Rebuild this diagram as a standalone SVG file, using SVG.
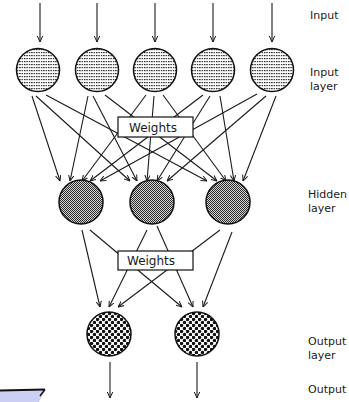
<svg xmlns="http://www.w3.org/2000/svg" width="349" height="402" viewBox="0 0 349 402">
  <style>
    .lbl { font-family: "DejaVu Sans", "Liberation Sans", sans-serif; font-size: 11px; fill: #1a1a1a; }
    .wt { font-family: "DejaVu Sans", "Liberation Sans", sans-serif; font-size: 12px; fill: #1a1a1a; text-anchor: middle; }
    .node { stroke: #111; stroke-width: 1.5; }
    .box { fill: #fff; stroke: #111; stroke-width: 1.2; }
    .conn line { stroke: #1a1a1a; stroke-width: 1.1; fill: none; marker-end: url(#head); }
  </style>
  <defs>
    <!-- open V arrowhead -->
    <marker id="head" viewBox="0 0 6 6" refX="6" refY="3" markerWidth="6" markerHeight="6" markerUnits="userSpaceOnUse" orient="auto">
      <path d="M0,0.3 L6,3 L0,5.7" fill="none" stroke="#1a1a1a" stroke-width="1"/>
    </marker>
    <!-- input layer: rows of fine dots -->
    <pattern id="dots" width="2.4" height="3" patternUnits="userSpaceOnUse">
      <rect width="2.4" height="3" fill="#fff"/>
      <rect x="0" y="1" width="1.4" height="1.2" fill="#222"/>
    </pattern>
    <!-- hidden layer: dense dither -->
    <pattern id="dither" width="2" height="2" patternUnits="userSpaceOnUse">
      <rect width="2" height="2" fill="#d6d6d6"/>
      <rect x="0" y="0" width="1" height="1" fill="#2a2a2a"/>
      <rect x="1" y="1" width="1" height="1" fill="#2a2a2a"/>
    </pattern>
    <!-- output layer: checkerboard dots -->
    <pattern id="checker" width="6" height="6" patternUnits="userSpaceOnUse">
      <rect width="6" height="6" fill="#fff"/>
      <circle cx="1.5" cy="1.5" r="1.75" fill="#111"/>
      <circle cx="4.5" cy="4.5" r="1.75" fill="#111"/>
    </pattern>
  </defs>

  <rect width="349" height="402" fill="#fff"/>

  <!-- connectors -->
  <g id="connectors" class="conn">
    <!-- external inputs -->
    <line x1="40" y1="3" x2="40" y2="42"/>
    <line x1="97" y1="3" x2="97" y2="42"/>
    <line x1="155" y1="3" x2="155" y2="42"/>
    <line x1="213" y1="3" x2="213" y2="42"/>
    <line x1="272" y1="3" x2="272" y2="42"/>
    <!-- input layer to hidden layer -->
    <line x1="32" y1="96" x2="60" y2="181"/>
    <line x1="36" y1="96" x2="130" y2="181"/>
    <line x1="46" y1="95" x2="207" y2="181"/>
    <line x1="88" y1="96" x2="70" y2="181"/>
    <line x1="93" y1="96" x2="137" y2="181"/>
    <line x1="105" y1="95" x2="217" y2="181"/>
    <line x1="146" y1="95" x2="82" y2="181"/>
    <line x1="154" y1="96" x2="147" y2="181"/>
    <line x1="163" y1="95" x2="226" y2="181"/>
    <line x1="203" y1="95" x2="90" y2="181"/>
    <line x1="210" y1="96" x2="157" y2="181"/>
    <line x1="220" y1="96" x2="234" y2="181"/>
    <line x1="257" y1="94" x2="100" y2="181"/>
    <line x1="266" y1="96" x2="167" y2="181"/>
    <line x1="276" y1="96" x2="243" y2="181"/>
    <!-- hidden layer to output layer -->
    <line x1="82" y1="230" x2="100" y2="307"/>
    <line x1="90" y1="230" x2="182" y2="307"/>
    <line x1="147" y1="230" x2="109" y2="307"/>
    <line x1="157" y1="226" x2="193" y2="307"/>
    <line x1="220" y1="230" x2="118" y2="307"/>
    <line x1="232" y1="232" x2="203" y2="307"/>
    <!-- outputs -->
    <line x1="110" y1="362" x2="110" y2="398"/>
    <line x1="197" y1="362" x2="197" y2="398"/>
  </g>

  <!-- weight boxes sit over the connections -->
  <g id="weights1">
    <rect class="box" x="118" y="117" width="75" height="20"/>
    <text class="wt" x="153" y="132">Weights</text>
  </g>
  <g id="weights2">
    <rect class="box" x="118" y="251" width="75" height="19"/>
    <text class="wt" x="151" y="265">Weights</text>
  </g>

  <!-- input layer -->
  <g id="in1"><circle class="node" cx="38" cy="70" r="21.5" fill="url(#dots)"/></g>
  <g id="in2"><circle class="node" cx="97" cy="70" r="21.5" fill="url(#dots)"/></g>
  <g id="in3"><circle class="node" cx="155" cy="70" r="21.5" fill="url(#dots)"/></g>
  <g id="in4"><circle class="node" cx="213" cy="70" r="21.5" fill="url(#dots)"/></g>
  <g id="in5"><circle class="node" cx="272" cy="70" r="21.5" fill="url(#dots)"/></g>

  <!-- hidden layer -->
  <g id="hid1"><circle class="node" cx="81" cy="202" r="22" fill="url(#dither)"/></g>
  <g id="hid2"><circle class="node" cx="152" cy="202" r="22" fill="url(#dither)"/></g>
  <g id="hid3"><circle class="node" cx="228" cy="202" r="22" fill="url(#dither)"/></g>

  <!-- output layer -->
  <g id="out1"><circle class="node" cx="109" cy="334" r="22" fill="url(#checker)"/></g>
  <g id="out2"><circle class="node" cx="197" cy="334" r="22" fill="url(#checker)"/></g>

  <!-- side labels -->
  <g id="labels">
    <text class="lbl" x="310" y="19">Input</text>
    <text class="lbl" x="310" y="76">Input</text>
    <text class="lbl" x="310" y="90">layer</text>
    <text class="lbl" x="308" y="198">Hidden</text>
    <text class="lbl" x="308" y="212">layer</text>
    <text class="lbl" x="308" y="345">Output</text>
    <text class="lbl" x="308" y="359">layer</text>
    <text class="lbl" x="308" y="393">Output</text>
  </g>

  <!-- tab shape at lower left edge -->
  <g id="tab">
    <polygon points="0,390 45,389 39,402 0,402" fill="#cbcff3"/>
    <line x1="0" y1="390.5" x2="45" y2="389.5" stroke="#111" stroke-width="2"/>
    <line x1="45" y1="389.5" x2="40" y2="396" stroke="#111" stroke-width="1.5"/>
  </g>
</svg>
